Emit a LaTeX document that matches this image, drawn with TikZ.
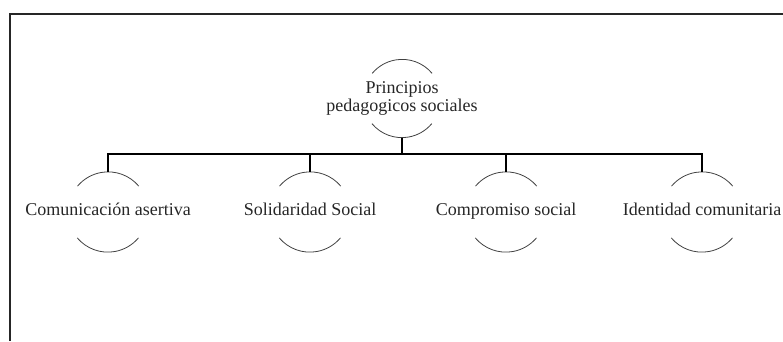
\documentclass[tikz,border=0pt]{standalone}
\usepackage{fontspec}
\setmainfont{Liberation Serif}
\begin{document}
\begin{tikzpicture}[x=1pt,y=1pt,
  bubble/.style={circle,minimum size=#1,inner sep=0pt},
  txt/.style={font=\fontsize{18}{18}\selectfont,align=center,text=black!85,inner sep=0pt},
  arcline/.style={draw=black!75,line width=0.8pt},
  conn/.style={draw=black,line width=1.1pt},
  frame/.style={draw=black!85,line width=1.6pt}]
\useasboundingbox (0,0) rectangle (783,341);
\draw[frame] (10,0) -- (10,327) -- (783,327);
\node[bubble=78,label={[txt]center:Principios\\pedagogicos sociales}] (root) at (402,242.5) {};
\node[bubble=80,label={[txt]center:\strut Comunicación asertiva}] (c1) at (108,129) {};
\node[bubble=80,label={[txt]center:\strut Solidaridad Social}] (c2) at (310,129) {};
\node[bubble=80,label={[txt]center:\strut Compromiso social}] (c3) at (506,129) {};
\node[bubble=80,label={[txt]center:\strut Identidad comunitaria}] (c4) at (702,129) {};
\foreach \n/\r in {root/39,c1/40,c2/40,c3/40,c4/40}{
  \draw[arcline] (\n.40) arc[start angle=40,end angle=140,radius=\r];
  \draw[arcline] (\n.220) arc[start angle=220,end angle=320,radius=\r];
}
\coordinate (bus) at (402,187);
\draw[conn] (root.south) -- (bus);
\foreach \c in {c1,c2,c3,c4}{\draw[conn] (bus) -| (\c.north);}
\end{tikzpicture}
\end{document}
